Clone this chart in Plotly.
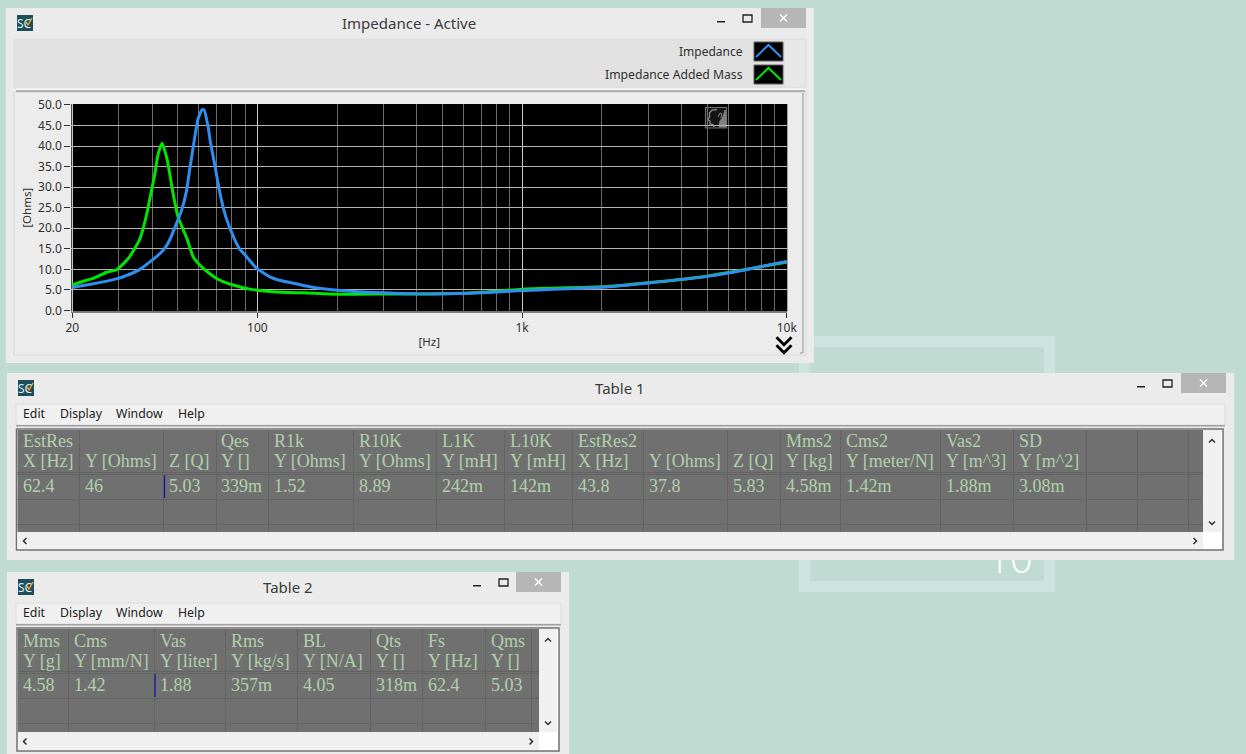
import plotly.graph_objects as go

# ---------- data ----------
blue_f = [20,24,29.4,32.6,36,41.6,44.7,46.7,48.8,51.7,54,55.2,58,59.7,61.8,62.9,65.2,66.5,69.2,72.2,75.9,82.2,85.7,91,99.3,111.5,122,140,160,200,250,300,400,500,700,1000,2000,3000,5000,7000,8000,10000]
blue_z = [5.6,6.5,7.7,8.7,10.0,13.1,15.1,17.2,20.2,24.3,29.1,33.2,42.1,46.6,48.8,48.8,44.6,40.9,35.1,28.6,22.9,17.2,15.0,13.1,10.3,8.2,7.3,6.5,5.7,4.9,4.5,4.3,4.05,4.05,4.3,4.85,5.65,6.7,8.3,9.9,10.7,11.9]
green_f = [20,21.7,24,27,29.4,32.6,34.2,36,38.1,39.8,41,42.2,43.7,45.4,46.7,48.1,50.2,54.3,57.2,62.4,70.1,81,93.7,111.5,130,150,200,300,500,700,1000,2000,3000,5000,7000,10000]
green_z = [6.2,7.0,7.8,9.3,9.9,12.7,14.8,17.4,23.1,29.1,33.2,38.1,40.7,37.3,33.2,28.3,22.7,17.4,13.1,10.3,7.8,6.2,5.2,4.6,4.4,4.3,3.95,4.0,4.1,4.4,5.2,5.75,6.75,8.35,9.95,11.8]
x_ticks = [20,100,1000,10000]
x_labels = ["20","100","1k","10k"]
x_minor = [30,40,50,60,70,80,90,200,300,400,500,600,700,800,900,2000,3000,4000,5000,6000,7000,8000,9000]
y_ticks = [0,5,10,15,20,25,30,35,40,45,50]
y_labels = ["0.0","5.0","10.0","15.0","20.0","25.0","30.0","35.0","40.0","45.0","50.0"]
t1_head1 = ["EstRes","","","Qes","R1k","R10K","L1K","L10K","EstRes2","","","Mms2","Cms2","Vas2","SD"]
t1_head2 = ["X [Hz]","Y [Ohms]","Z [Q]","Y []","Y [Ohms]","Y [Ohms]","Y [mH]","Y [mH]","X [Hz]","Y [Ohms]","Z [Q]","Y [kg]","Y [meter/N]","Y [m^3]","Y [m^2]"]
t1_vals = ["62.4","46","5.03","339m","1.52","8.89","242m","142m","43.8","37.8","5.83","4.58m","1.42m","1.88m","3.08m"]
t2_head1 = ["Mms","Cms","Vas","Rms","BL","Qts","Fs","Qms"]
t2_head2 = ["Y [g]","Y [mm/N]","Y [liter]","Y [kg/s]","Y [N/A]","Y []","Y [Hz]","Y []"]
t2_vals = ["4.58","1.42","1.88","357m","4.05","318m","62.4","5.03"]
menu_items = ["Edit","Display","Window","Help"]

# ---------- layout constants ----------
W, H = 1246, 754
BG = "#c0dbd2"; WM = "#cbe4dd"; WIN = "#ebebeb"; CELL = "#707070"; CLINE = "#646464"
TXT = "#b0d0ac"; UI = "Noto Sans"; SERIF = "Liberation Serif"; DARK = "#303030"
t1_edges = [17,79,163,216,268,353,436.5,504,572,643,727,780,840,940.5,1013,1086,1137,1188]
t2_edges = [17,68.5,154,225,297,370,422.5,485,531]
menu_x = [22,59,115,177]

px = lambda x: x / W
py = lambda y: 1 - y / H
shapes, notes = [], []

def rect(x0, y0, x1, y1, fill, line=None, lw=1, **kw):
    shapes.append(dict(type="rect", xref="paper", yref="paper", layer="below",
                       x0=px(x0), x1=px(x1), y0=py(y1), y1=py(y0), fillcolor=fill,
                       line=dict(color=line or fill, width=lw if line else 0), **kw))

def poly(points, color, lw=1.5, fill=None, close=False):
    d = "M" + " L".join(f"{px(a):.5f},{py(b):.5f}" for a, b in points) + (" Z" if close else "")
    shapes.append(dict(type="path", xref="paper", yref="paper", layer="below", path=d,
                       fillcolor=fill or "rgba(0,0,0,0)", line=dict(color=color, width=lw)))

def text(x, y, s, size=12, color=DARK, family=UI, anchor="left"):
    notes.append(dict(xref="paper", yref="paper", x=px(x), y=py(y), text=s, showarrow=False,
                      xanchor=anchor, yanchor="middle", borderpad=0,
                      font=dict(size=size, color=color, family=family)))

def window(x0, y0, x1, y1, title, tx, min_x, max_x, cl0, cl1):
    rect(x0, y0, x1, y1, WIN)
    ix = 18 if x0 > 6 else 17
    rect(ix, y0 + 7, ix + 16, y0 + 23, "#1c4e5c")
    text(ix + 7.5, y0 + 15.5, "SC", size=12, color="#dfeaea", anchor="center")
    poly([(ix + 9, y0 + 14), (ix + 11, y0 + 17), (ix + 15, y0 + 10)], "#f0a030", 1.4)
    text(tx, y0 + 15, title, size=15, color="#3a3a3a", anchor="center")
    rect(min_x, y0 + 13, min_x + 8, y0 + 14.5, "#202020")
    rect(max_x, y0 + 7, max_x + 9, y0 + 14, "rgba(0,0,0,0)", line="#202020", lw=1.3)
    rect(cl0, y0, cl1, y0 + 20, "#b6b6b6")
    mid = (cl0 + cl1) / 2
    poly([(mid - 3.5, y0 + 6.5), (mid + 3.5, y0 + 13.5)], "#ffffff", 1.4)
    poly([(mid - 3.5, y0 + 13.5), (mid + 3.5, y0 + 6.5)], "#ffffff", 1.4)

def chev(cx, cy, d, color="#303030", lw=1.5, s=3):
    if d == "up":    pts = [(cx - s, cy + s / 2), (cx, cy - s / 2), (cx + s, cy + s / 2)]
    if d == "down":  pts = [(cx - s, cy - s / 2), (cx, cy + s / 2), (cx + s, cy - s / 2)]
    if d == "left":  pts = [(cx + s / 2, cy - s), (cx - s / 2, cy), (cx + s / 2, cy + s)]
    if d == "right": pts = [(cx - s / 2, cy - s), (cx + s / 2, cy), (cx - s / 2, cy + s)]
    poly(pts, color, lw)

def table(bar_top, bar_bot, fr0, fr1, top, bottom, right, scroll_right, frame_bot, rows,
          edges, h1, h2, vals, ys, cursor_x):
    rect(16, bar_top, fr1 + 2, bar_bot, "#f0f0f0", line="#dcdcdc")
    rect(16, bar_bot, fr1 + 2, bar_bot + 1.5, "#a0a0a0")
    for m, mx in zip(menu_items, menu_x):
        text(mx, (bar_top + bar_bot) / 2 - 0.8, m, size=12.3, color="#202020")
    rect(fr0, top - 1, fr1, frame_bot, "#ffffff", line="#707070", lw=1.5)
    rect(fr0 + 1, top, right, bottom, CELL)
    rect(right, top, scroll_right, bottom, "#f0f0f0")
    rect(fr0 + 1, bottom, right, frame_bot - 1, "#f0f0f0")
    for e in edges[1:]:
        ex = int(e) + 0.5
        poly([(ex, top), (ex, bottom)], CLINE, 1)
    for r in rows:
        poly([(fr0 + 1, r + 0.5), (right, r + 0.5)], CLINE, 1)
    poly([(fr0 + 1, rows[0] + 2.5), (right, rows[0] + 2.5)], CLINE, 1)
    for i, e in enumerate(edges[:len(vals)]):
        if h1[i]:
            text(e + 4.5, ys[0], h1[i], size=18, color=TXT, family=SERIF)
        text(e + 4.5, ys[1], h2[i], size=18, color=TXT, family=SERIF)
        text(e + 4.5, ys[2], vals[i], size=18, color=TXT, family=SERIF)
    poly([(cursor_x, rows[0] + 3), (cursor_x, rows[1] - 1)], "#1010b0", 1.2)
    chev((right + scroll_right) / 2, top + 11, "up")
    chev((right + scroll_right) / 2, bottom - 9, "down")
    chev(25, (bottom + frame_bot) / 2, "left")
    chev(right - 8, (bottom + frame_bot) / 2, "right")

# ---------- desktop background ----------
rect(0, 0, W, H, BG)
rect(804.5, 341.5, 1049.5, 586.5, "rgba(0,0,0,0)", line=WM, lw=11)
shapes.append(dict(type="rect", xref="paper", yref="paper", layer="below",
                   x0=px(975), x1=px(1045), y0=py(584), y1=py(536),
                   fillcolor="rgba(0,0,0,0)", line=dict(width=0),
                   label=dict(text="10", font=dict(size=40, color="#ffffff", family="Open Sans Light, Open Sans"),
                              textposition="middle center")))

# ---------- window: impedance ----------
window(6, 8, 814, 363, "Impedance - Active", 409, 717, 743, 761, 806)
rect(14, 39, 806, 88, "#e1e1e1", line="#dcdcdc")
rect(785, 40, 805, 87, "#e7e7e7")
rect(16, 88, 805, 90.5, "#f2f2f2")
rect(16, 90.5, 805, 92, "#808080")
rect(14, 92, 806, 355, "#ececec", line="#d9d9d9")
poly([(803, 93), (803, 353), (800, 353)], "#909090", 1)
rect(71.3, 104, 787.3, 311.5, "#000000")
text(744, 51, "Impedance", size=12, color="#303030", anchor="right")
text(744, 74, "Impedance Added Mass", size=12.2, color="#303030", anchor="right")
rect(754, 42, 783, 61, "#000000", line="#606060", lw=1)
rect(754, 65, 783, 84, "#000000", line="#606060", lw=1)
poly([(756, 57), (768.5, 45), (781, 57)], "#2f8ff0", 2)
poly([(756, 80), (768.5, 68), (781, 80)], "#00e600", 2)
chev(784, 341, "down", "#000000", 2.8, 7.5)
chev(784, 349, "down", "#000000", 2.8, 7.5)
# head icon in plot corner
rect(705.5, 107.5, 726.5, 128, "#141414", line="#6e6e6e", lw=1.2)
poly([(717, 109.5), (712, 110), (709.5, 113), (709.5, 117), (708, 120), (710, 121), (710, 124), (713, 124.5), (714, 127)], "#8a8a8a", 1.3)
poly([(718, 117), (720, 113), (722, 114), (721, 118)], "#8a8a8a", 1)
poly([(719, 127), (720, 121), (723, 117), (725, 110), (726, 118), (726, 127)], "#808080", 1, fill="#808080", close=True)

# ---------- window: table 1 ----------
window(7, 373, 1234, 560, "Table 1", 620, 1137, 1163, 1181, 1226)
table(404, 425, 16.5, 1223, 430, 532, 1203, 1221, 550, [472, 499, 524],
      t1_edges, t1_head1, t1_head2, t1_vals, (441, 461, 486), 164.5)

# ---------- window: table 2 ----------
window(7, 572, 569, 754, "Table 2", 288, 473, 499, 516, 561)
table(603, 624, 17, 559, 629, 732, 539, 557, 751, [671, 698, 723],
      t2_edges, t2_head1, t2_head2, t2_vals, (641, 661, 685), 155)

# ---------- figure ----------
fig = go.Figure()
fig.add_trace(go.Scatter(x=green_f, y=green_z, name="Impedance Added Mass", mode="lines",
                         line=dict(color="#00e600", width=3, shape="spline", smoothing=0.5)))
fig.add_trace(go.Scatter(x=blue_f, y=blue_z, name="Impedance", mode="lines",
                         line=dict(color="#2f8ff0", width=3, shape="spline", smoothing=0.5)))

fig.update_layout(
    width=W, height=H, margin=dict(l=0, r=0, t=0, b=0, pad=0, autoexpand=False), autosize=False,
    paper_bgcolor=BG, plot_bgcolor="#000000", showlegend=False,
    shapes=shapes, annotations=notes,
    xaxis=dict(type="log", domain=[px(71.3), px(787.3)], range=[1.2972, 4.002],
               tickmode="array", tickvals=x_ticks, ticktext=x_labels,
               ticks="outside", ticklen=5, tickcolor="#303030",
               tickfont=dict(size=12, color=DARK, family=UI),
               showgrid=True, gridcolor="#c8c8c8", gridwidth=1,
               minor=dict(tickmode="array", tickvals=x_minor, showgrid=True,
                          gridcolor="#6a6a6a", gridwidth=1, ticks=""),
               showline=True, linecolor="#808080", zeroline=False,
               title=dict(text="[Hz]", standoff=3, font=dict(size=11.5, color=DARK, family=UI))),
    yaxis=dict(domain=[py(311.5), py(104)], range=[-0.24, 50.22],
               tickmode="array", tickvals=y_ticks, ticktext=y_labels,
               ticks="outside", ticklen=6, tickcolor="#303030",
               tickfont=dict(size=12, color=DARK, family=UI),
               showgrid=True, gridcolor="#b4b4b4", gridwidth=1, zeroline=False,
               title=dict(text="[Ohms]", standoff=4, font=dict(size=11.5, color=DARK, family=UI))),
)
fig.write_html("out.html", config={"displayModeBar": False},
               post_script="document.body.style.margin='0';document.body.style.overflow='hidden';")
